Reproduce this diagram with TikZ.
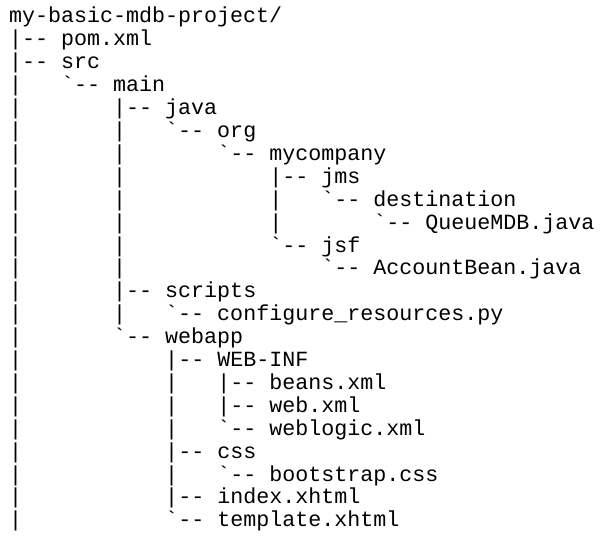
\documentclass[tikz,border=0pt]{standalone}
\usepackage{fontspec}
\newfontfamily\cour{Liberation Mono}
\begin{document}
\begin{tikzpicture}[x=1pt,y=-1pt,ln/.style={anchor=base west,inner sep=0pt,font=\cour\fontsize{21.67}{23}\selectfont}]
\useasboundingbox (0,0) rectangle (606,546);
\fill[white] (0,0) rectangle (606,546);
\def\bt{\symbol{96}}
\def\dd{-{}-}
\foreach \t [count=\i from 0] in {
my-basic-mdb-project/,
|\dd\ pom.xml,
|\dd\ src,
|\ \ \ \bt\dd\ main,
|\ \ \ \ \ \ \ |\dd\ java,
|\ \ \ \ \ \ \ |\ \ \ \bt\dd\ org,
|\ \ \ \ \ \ \ |\ \ \ \ \ \ \ \bt\dd\ mycompany,
|\ \ \ \ \ \ \ |\ \ \ \ \ \ \ \ \ \ \ |\dd\ jms,
|\ \ \ \ \ \ \ |\ \ \ \ \ \ \ \ \ \ \ |\ \ \ \bt\dd\ destination,
|\ \ \ \ \ \ \ |\ \ \ \ \ \ \ \ \ \ \ |\ \ \ \ \ \ \ \bt\dd\ QueueMDB.java,
|\ \ \ \ \ \ \ |\ \ \ \ \ \ \ \ \ \ \ \bt\dd\ jsf,
|\ \ \ \ \ \ \ |\ \ \ \ \ \ \ \ \ \ \ \ \ \ \ \bt\dd\ AccountBean.java,
|\ \ \ \ \ \ \ |\dd\ scripts,
|\ \ \ \ \ \ \ |\ \ \ \bt\dd\ configure\_resources.py,
|\ \ \ \ \ \ \ \bt\dd\ webapp,
|\ \ \ \ \ \ \ \ \ \ \ |\dd\ WEB-INF,
|\ \ \ \ \ \ \ \ \ \ \ |\ \ \ |\dd\ beans.xml,
|\ \ \ \ \ \ \ \ \ \ \ |\ \ \ |\dd\ web.xml,
|\ \ \ \ \ \ \ \ \ \ \ |\ \ \ \bt\dd\ weblogic.xml,
|\ \ \ \ \ \ \ \ \ \ \ |\dd\ css,
|\ \ \ \ \ \ \ \ \ \ \ |\ \ \ \bt\dd\ bootstrap.css,
|\ \ \ \ \ \ \ \ \ \ \ |\dd\ index.xhtml,
|\ \ \ \ \ \ \ \ \ \ \ \bt\dd\ template.xhtml}
  \node[ln] (l\i) at (9,{23+22.9*\i}) {\t};
\end{tikzpicture}
\end{document}
